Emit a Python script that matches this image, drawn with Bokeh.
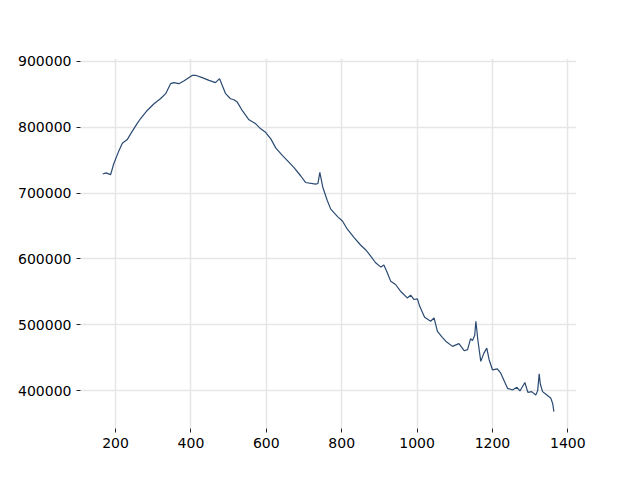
from bokeh.plotting import figure
from bokeh.models import Range1d, FixedTicker, NumeralTickFormatter
from bokeh.embed import file_html
from bokeh.resources import INLINE

x_vals = [166, 175, 187, 195, 209, 218, 231, 240, 258, 266, 284, 302, 319, 333, 346, 355, 368, 381,
          404, 412, 430, 448, 465, 476, 492, 505, 514, 523, 536, 554, 572, 585, 598, 612, 625, 643,
          656, 673, 691, 704, 731, 737, 742, 746, 750, 762, 771, 789, 802, 815, 833, 850, 864, 877,
          890, 904, 912, 921, 930, 943, 956, 974, 983, 992, 1001, 1007, 1020, 1036, 1045, 1054,
          1067, 1076, 1094, 1111, 1125, 1134, 1142, 1147, 1153, 1156, 1158, 1161, 1169, 1177, 1185,
          1191, 1200, 1213, 1222, 1240, 1253, 1265, 1273, 1286, 1294, 1304, 1315, 1320, 1324, 1327,
          1333, 1342, 1355, 1360, 1363]
y_vals = [728800, 730500, 728000, 744000, 764300, 775500, 781100, 789800, 806000, 812700, 825300,
          835500, 843100, 850800, 866000, 867500, 866000, 870000, 878700, 878700, 875200, 871000,
          867500, 873600, 850800, 843100, 841600, 838000, 825300, 811100, 805000, 797400, 792200,
          782200, 768500, 756700, 749100, 738900, 726200, 716000, 713600, 714500, 731300, 720000,
          708400, 688200, 675500, 664200, 657600, 645000, 632200, 621100, 613500, 604300, 594100,
          587500, 590600, 578800, 566200, 561100, 550900, 540700, 544800, 538300, 539200, 528000,
          511300, 505300, 510300, 490000, 481000, 475000, 467200, 471300, 460600, 462200, 479000,
          475900, 484000, 505300, 495000, 478000, 444400, 456500, 464500, 447300, 431600, 433100,
          426400, 403500, 401000, 405000, 399500, 412300, 397400, 398500, 393400, 400000, 425400,
          410000, 398500, 394400, 388300, 380000, 368000]

x_ticks = [200, 400, 600, 800, 1000, 1200, 1400]
y_ticks = [400000, 500000, 600000, 700000, 800000, 900000]

p = figure(width=632, height=472, output_backend="svg", toolbar_location=None,
           x_range=Range1d(107, 1423), y_range=Range1d(342500, 904200),
           min_border_left=80, min_border_right=56, min_border_top=58, min_border_bottom=44)
p.outline_line_color = None
p.background_fill_color = "white"
p.border_fill_color = "white"

p.line(x_vals, y_vals, line_color="#2a4a72", line_width=1.2)

for ax in (p.xaxis, p.yaxis):
    ax.axis_line_color = None
    ax.major_tick_in = 0
    ax.major_tick_out = 4
    ax.minor_tick_line_color = None
    ax.major_tick_line_color = "#222222"
    ax.major_label_text_font = "DejaVu Sans"
    ax.major_label_text_font_size = "14px"
    ax.major_label_text_color = "black"
    ax.major_label_standoff = 5

p.xaxis.ticker = FixedTicker(ticks=x_ticks)
p.yaxis.ticker = FixedTicker(ticks=y_ticks)
p.yaxis.formatter = NumeralTickFormatter(format="0")

p.xgrid.ticker = FixedTicker(ticks=x_ticks)
p.ygrid.ticker = FixedTicker(ticks=y_ticks)
p.grid.grid_line_color = "#e6e6e6"
p.grid.grid_line_width = 1.5

open("out.html", "w").write(file_html(p, INLINE))
